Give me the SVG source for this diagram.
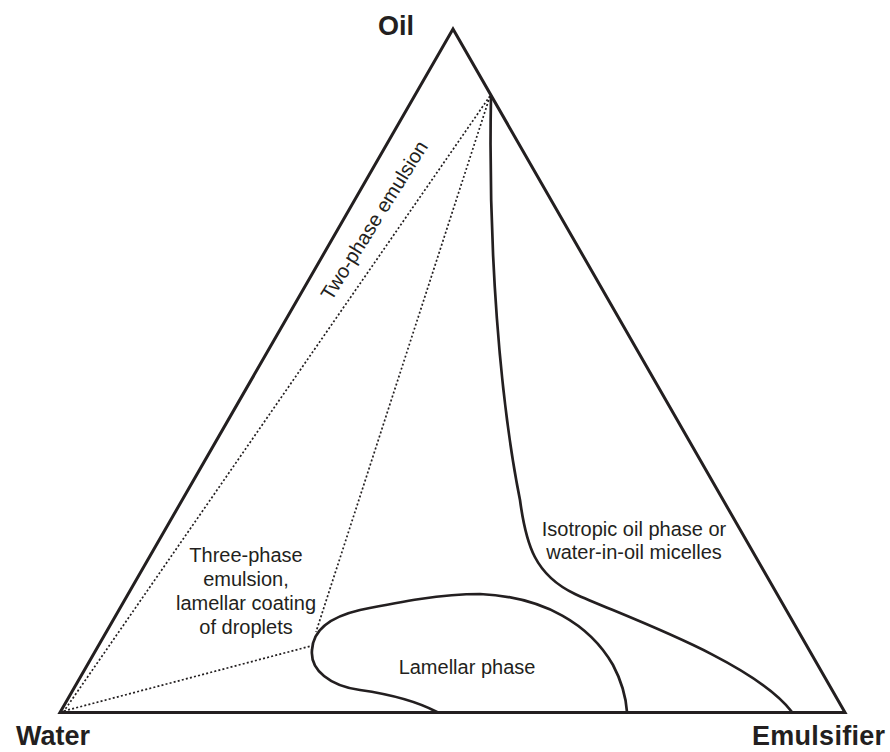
<svg xmlns="http://www.w3.org/2000/svg" width="890" height="752" viewBox="0 0 890 752">
<style>
.edge{fill:none;stroke:#231f20;stroke-width:3;stroke-linejoin:miter}
.curve{fill:none;stroke:#231f20;stroke-width:2.7;stroke-linecap:round}
.dot{fill:none;stroke:#231f20;stroke-width:1.7;stroke-dasharray:2 2.2}
.big{font-family:"Liberation Sans",Arial,sans-serif;font-weight:bold;font-size:27px;fill:#231f20}
.lab{font-family:"Liberation Sans",Arial,sans-serif;font-size:20px;fill:#231f20}
</style>
<rect width="890" height="752" fill="#fff"/>
<g id="triangle">
<path class="edge" d="M453,29 L845,712.5 L60,712.5 Z"/>
</g>
<g id="connectors">
<path class="dot" d="M490,96 L64,711"/>
<path class="dot" d="M490,96 L316,632"/>
<path class="dot" d="M64,711 L311,646"/>
<path class="curve" d="M491,96 C488,250 500,400 520,500 C526,545 535,575 575,594 C620,615 752,660 792,712"/>
<path class="curve" d="M437,712 C420,703 395,695 360,690 C330,686 310,670 312,650 C313,630 330,617 360,610 C400,602 440,594 480,594 C545,597 590,625 613,665 C622,682 626,698 627,712"/>
</g>
<g id="node-oil"><text class="big" x="378" y="35">Oil</text></g>
<g id="node-water"><text class="big" x="16" y="745">Water</text></g>
<g id="node-emulsifier"><text class="big" x="752" y="745" textLength="133" lengthAdjust="spacing">Emulsifier</text></g>
<g id="region-two-phase"><text class="lab" text-anchor="middle" transform="translate(380,224) rotate(-58)">Two-phase emulsion</text></g>
<g id="region-three-phase"><text class="lab" text-anchor="middle"><tspan x="246" y="562">Three-phase</tspan><tspan x="246" y="586">emulsion,</tspan><tspan x="246" y="610">lamellar coating</tspan><tspan x="246" y="634">of droplets</tspan></text></g>
<g id="region-isotropic"><text class="lab" text-anchor="middle"><tspan x="634" y="536">Isotropic oil phase or</tspan><tspan x="634" y="559">water-in-oil micelles</tspan></text></g>
<g id="region-lamellar"><text class="lab" text-anchor="middle" x="467" y="674">Lamellar phase</text></g>
</svg>
